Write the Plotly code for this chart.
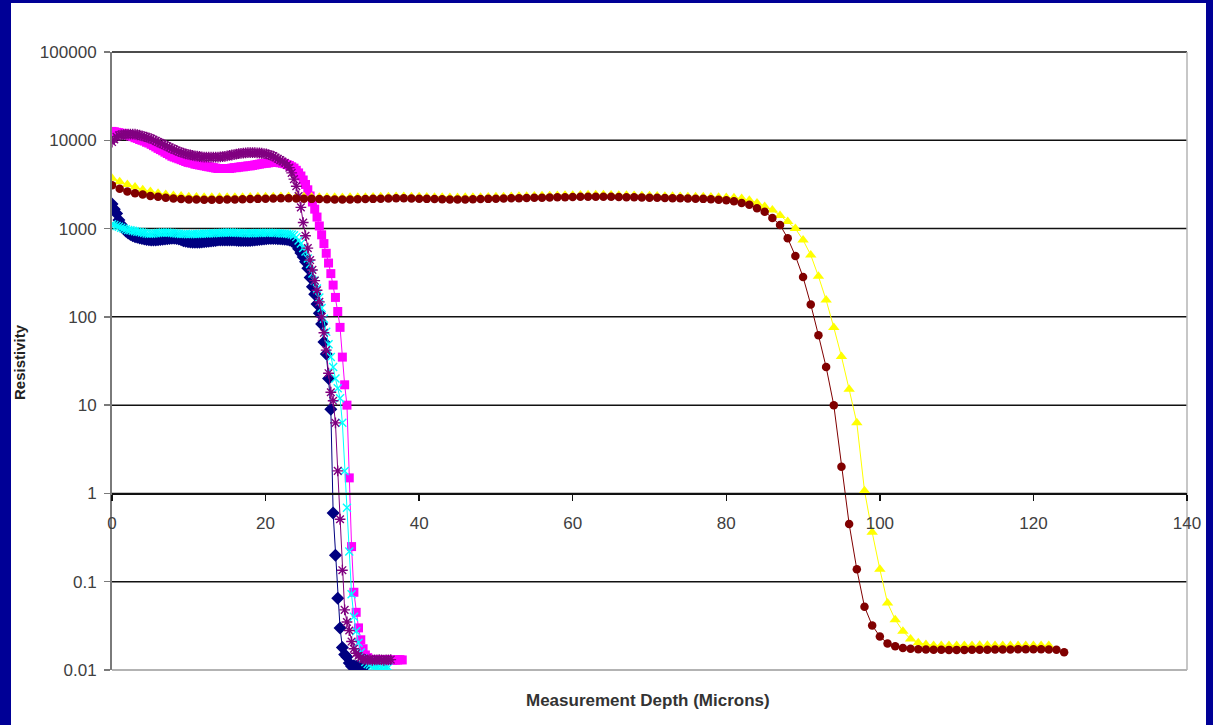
import plotly.graph_objects as go

# ---------------- data ----------------
FINE_STEP = 0.3   # depth step (microns) of the four short profiles
COARSE_STEP = 1.0 # depth step (microns) of the two long profiles

navy_vals = [1900, 1660, 1480, 1250, 1110, 1010, 940, 890, 855, 830,
             810, 795, 780, 770, 760, 750, 745, 740, 740, 740,
             745, 750, 755, 760, 765, 770, 775, 775, 770, 760,
             745, 730, 720, 710, 705, 700, 700, 700, 700, 705,
             710, 715, 720, 725, 730, 735, 740, 740, 740, 740,
             740, 740, 740, 740, 738, 735, 735, 735, 735, 735,
             735, 738, 740, 745, 750, 755, 760, 765, 770, 770,
             770, 770, 768, 765, 760, 755, 750, 740, 725, 700,
             650, 590, 530, 475, 420, 355, 280, 220, 180, 140,
             110, 83, 52, 38, 20, 9, 0.6, 0.2, 0.065, 0.03,
             0.018, 0.015, 0.014, 0.012, 0.011, 0.0112, 0.011, 0.011, 0.011, 0.011,
             0.011]

magenta_vals = [12600, 12500, 12300, 12200, 12000, 11900, 11700, 11500, 11200, 11000,
                10700, 10500, 10200, 10000, 9800, 9500, 9300, 9000, 8700, 8400,
                8100, 7850, 7600, 7330, 7080, 6840, 6600, 6450, 6310, 6170,
                6030, 5890, 5750, 5620, 5560, 5500, 5370, 5310, 5250, 5190,
                5130, 5070, 5010, 4960, 4900, 4840, 4790, 4790, 4790, 4790,
                4790, 4790, 4840, 4900, 4900, 4960, 5010, 5010, 5070, 5130,
                5130, 5190, 5250, 5310, 5370, 5430, 5500, 5500, 5560, 5620,
                5620, 5620, 5600, 5560, 5500, 5430, 5310, 5190, 5010, 4840,
                4570, 4270, 3940, 3550, 3160, 2750, 2340, 2000, 1660, 1350,
                1070, 850, 676, 525, 407, 309, 229, 166, 115, 76,
                35, 17, 10, 1.5, 0.25, 0.076, 0.045, 0.030, 0.022, 0.0174,
                0.0148, 0.0138, 0.0132, 0.013, 0.013, 0.0131, 0.013, 0.0129, 0.013, 0.0131,
                0.013, 0.013, 0.0129, 0.013, 0.013, 0.0131, 0.013]

cyan_vals = [1120, 1100, 1070, 1050, 1020, 1000, 980, 965, 955, 945,
             933, 923, 912, 902, 891, 881, 871, 875, 880, 885,
             890, 895, 900, 900, 900, 895, 890, 885, 880, 875,
             870, 868, 866, 865, 865, 866, 868, 870, 872, 875,
             878, 880, 882, 884, 886, 888, 890, 892, 895, 897,
             900, 900, 900, 898, 895, 892, 890, 888, 886, 885,
             885, 886, 888, 890, 892, 893, 894, 895, 895, 894,
             892, 890, 888, 885, 882, 878, 872, 865, 855, 840,
             800, 733, 676, 603, 550, 457, 398, 309, 257, 209,
             166, 126, 95, 68, 49, 35, 27, 20, 15.5, 12,
             6.3, 1.8, 0.69, 0.22, 0.072, 0.040, 0.0275, 0.0204, 0.0158, 0.0135,
             0.0123, 0.0117, 0.0115, 0.0112, 0.0111, 0.011, 0.011, 0.0109, 0.011, 0.0108,
             0.0107]

purple_vals = [9550, 10200, 10960, 11350, 11500, 11600, 11700, 11750, 11750, 11750,
               11700, 11560, 11430, 11220, 11020, 10840, 10620, 10420, 10140, 9860,
               9550, 9290, 9040, 8790, 8550, 8320, 8040, 7850, 7670, 7450,
               7280, 7160, 7030, 6920, 6820, 6750, 6670, 6610, 6550, 6500,
               6460, 6460, 6430, 6430, 6430, 6440, 6460, 6490, 6530, 6590,
               6650, 6730, 6810, 6890, 6970, 7050, 7110, 7160, 7190, 7230,
               7240, 7240, 7240, 7210, 7180, 7130, 7080, 7000, 6890, 6760,
               6610, 6380, 6170, 5960, 5750, 5560, 5250, 4900, 4270, 3630,
               3020, 2340, 1740, 1170, 830, 600, 440, 340, 257, 200,
               148, 100, 66, 42, 23, 14, 11.2, 6.3, 1.8, 0.51,
               0.135, 0.048, 0.035, 0.028, 0.021, 0.0174, 0.0155, 0.0145, 0.0138, 0.0133,
               0.0132, 0.013, 0.0131, 0.0129, 0.013, 0.013, 0.0131, 0.013, 0.0129, 0.013,
               0.013, 0.0131]

darkred_vals = [3090, 2820, 2630, 2510, 2430, 2340, 2290, 2240, 2190, 2160,
                2140, 2130, 2120, 2120, 2120, 2130, 2140, 2150, 2160, 2170,
                2180, 2190, 2200, 2200, 2190, 2180, 2170, 2160, 2150, 2140,
                2140, 2140, 2150, 2160, 2170, 2180, 2190, 2200, 2200, 2190,
                2180, 2170, 2160, 2150, 2140, 2140, 2140, 2150, 2160, 2170,
                2180, 2190, 2200, 2210, 2220, 2230, 2240, 2250, 2260, 2270,
                2280, 2290, 2300, 2300, 2300, 2290, 2280, 2270, 2260, 2250,
                2240, 2230, 2220, 2210, 2200, 2190, 2180, 2170, 2150, 2120,
                2090, 2040, 1950, 1860, 1700, 1550, 1320, 1100, 776, 490,
                282, 138, 62, 27, 10, 2.0, 0.45, 0.138, 0.052, 0.032,
                0.024, 0.020, 0.0186, 0.0178, 0.0174, 0.0172, 0.0171, 0.017, 0.017, 0.0169,
                0.0169, 0.0169, 0.017, 0.017, 0.017, 0.0171, 0.0171, 0.0171, 0.0172, 0.0172,
                0.0172, 0.0172, 0.0171, 0.017, 0.0159]

yellow_vals = [3720, 3390, 3160, 2950, 2750, 2630, 2510, 2430, 2370, 2340,
               2300, 2280, 2270, 2260, 2260, 2260, 2270, 2270, 2280, 2290,
               2300, 2300, 2310, 2310, 2300, 2290, 2280, 2270, 2260, 2260,
               2250, 2260, 2260, 2270, 2280, 2290, 2300, 2310, 2310, 2300,
               2290, 2280, 2270, 2260, 2250, 2250, 2260, 2260, 2270, 2280,
               2290, 2300, 2310, 2320, 2330, 2340, 2350, 2360, 2370, 2380,
               2390, 2400, 2410, 2410, 2410, 2400, 2390, 2380, 2370, 2360,
               2350, 2340, 2330, 2320, 2310, 2300, 2290, 2290, 2280, 2270,
               2250, 2230, 2190, 2090, 1950, 1780, 1620, 1410, 1200, 1000,
               741, 501, 288, 155, 76, 35.5, 15.1, 6.3, 1.07, 0.363,
               0.138, 0.0575, 0.0372, 0.0275, 0.0224, 0.0204, 0.0195, 0.019, 0.019, 0.0189,
               0.0189, 0.019, 0.019, 0.0191, 0.0191, 0.019, 0.019, 0.019, 0.0189, 0.0189,
               0.019, 0.019, 0.019]

y_tick_vals = [0.01, 0.1, 1, 10, 100, 1000, 10000, 100000]
y_tick_text = ["0.01", "0.1", "1", "10", "100", "1000", "10000", "100000"]
x_tick_vals = [0, 20, 40, 60, 80, 100, 120, 140]

x_title = "Measurement Depth (Microns)"
y_title = "Resistivity"


def depths(vals, step):
    return [round(i * step, 2) for i in range(len(vals))]


series = [
    # name, values, step, color, symbol, size
    ("Series1", navy_vals, FINE_STEP, "#000080", "diamond", 10),
    ("Series2", magenta_vals, FINE_STEP, "#FF00FF", "square", 9),
    ("Series3", yellow_vals, COARSE_STEP, "#FFFF00", "triangle-up", 10),
    ("Series4", cyan_vals, FINE_STEP, "#00FFFF", "x-thin-open", 8),
    ("Series5", purple_vals, FINE_STEP, "#800080", "asterisk-open", 9),
    ("Series6", darkred_vals, COARSE_STEP, "#800000", "circle", 8.5),
]

fig = go.Figure()
for name, vals, step, color, symbol, size in series:
    fig.add_trace(go.Scatter(
        x=depths(vals, step), y=vals, name=name, mode="lines+markers",
        line=dict(color=color, width=1),
        marker=dict(symbol=symbol, size=size, color=color,
                    line=dict(color=color, width=1.4 if "open" in symbol else 0)),
        showlegend=False,
    ))

# ---------------- layout ----------------
L, R, T, B = 112, 26, 52, 55
W, H = 1213, 725
pw, ph = W - L - R, H - T - B


def px_x(px):
    return (px - L) / pw


def px_y(py):
    return (H - B - py) / ph


NAVY = "#000096"

shapes = []
# white slide panel on navy background
shapes.append(dict(type="rect", xref="paper", yref="paper",
                   x0=px_x(11), x1=px_x(1206), y0=px_y(730), y1=px_y(3),
                   fillcolor="white", line=dict(width=0), layer="below"))
# decade gridlines
for k in range(-1, 6):
    yp = (k + 2) / 7
    shapes.append(dict(type="line", xref="paper", yref="paper", x0=0, x1=1,
                       y0=yp, y1=yp, line=dict(color="#111111", width=1.5),
                       layer="below"))
# plot-area border (bottom & right)
shapes.append(dict(type="line", xref="paper", yref="paper", x0=0, x1=1, y0=0, y1=0,
                   line=dict(color="#9a9a9a", width=1.5), layer="below"))
shapes.append(dict(type="line", xref="paper", yref="paper", x0=1, x1=1, y0=0, y1=1,
                   line=dict(color="#b5b5b5", width=1.5), layer="below"))

font_family = "Liberation Sans, Arial, sans-serif"

fig.update_layout(
    width=W, height=H,
    margin=dict(l=L, r=R, t=T, b=B, autoexpand=False),
    paper_bgcolor=NAVY,
    plot_bgcolor="rgba(0,0,0,0)",
    shapes=shapes,
    font=dict(family=font_family, size=16, color="#404040"),
    xaxis=dict(
        range=[0, 140], tickvals=x_tick_vals, showgrid=False, zeroline=False,
        showline=True, linecolor="#111111", linewidth=1.5,
        anchor="free", position=2 / 7,
        ticks="outside", ticklen=6, tickcolor="#111111", tickwidth=1.5,
        ticklabelstandoff=8,
        tickfont=dict(family=font_family, size=17, color="#404040"),
    ),
    yaxis=dict(
        type="log", range=[-2, 5], tickvals=y_tick_vals, ticktext=y_tick_text,
        showgrid=False, zeroline=False,
        showline=True, linecolor="#7a7a7a", linewidth=2,
        ticks="outside", ticklen=6, tickcolor="#7a7a7a", tickwidth=1.5,
        ticklabelstandoff=4,
        tickfont=dict(family=font_family, size=17, color="#404040"),
    ),
    annotations=[
        dict(text=f"<b>{y_title}</b>", xref="paper", yref="paper",
             x=px_x(20), y=px_y(362), textangle=-90, showarrow=False,
             font=dict(family=font_family, size=15, color="#222222"),
             xanchor="center", yanchor="middle"),
        dict(text=f"<b>{x_title}</b>", xref="paper", yref="paper",
             x=px_x(648), y=px_y(700), showarrow=False,
             font=dict(family=font_family, size=17, color="#333333"),
             xanchor="center", yanchor="middle"),
    ],
)

page_js = (
    "document.body.style.margin='0';"
    "document.body.style.padding='0';"
    "document.body.style.overflow='hidden';"
    f"document.body.style.background='{NAVY}';"
)
fig.write_html("out.html", post_script=page_js,
               config={"displayModeBar": False, "staticPlot": True})
